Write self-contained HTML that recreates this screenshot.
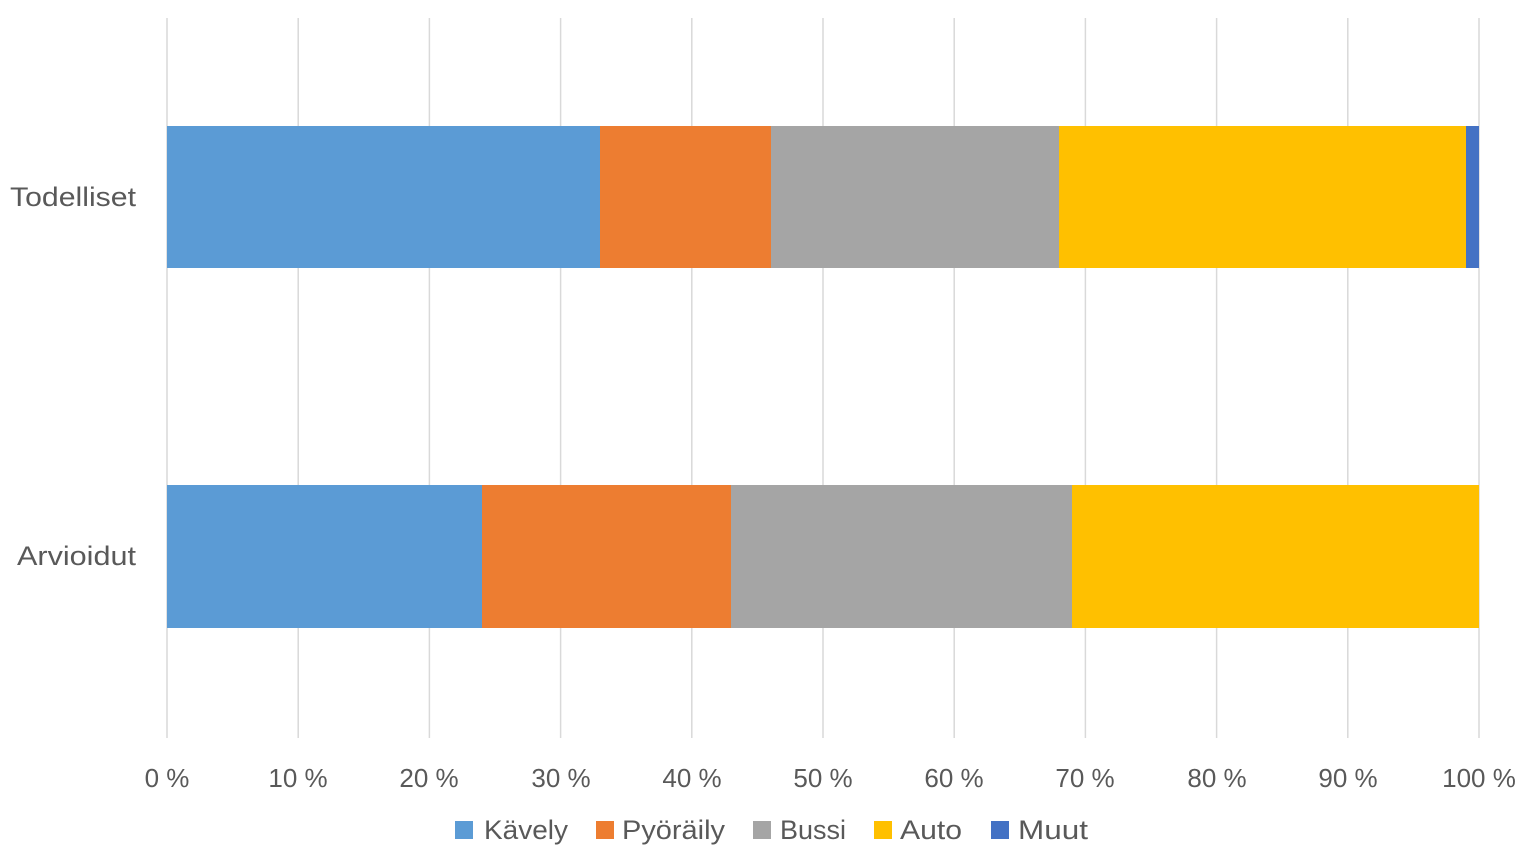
<!DOCTYPE html>
<html><head><style>html,body{margin:0;padding:0;background:#fff;}svg{display:block}</style></head>
<body>
<svg width="1536" height="864" viewBox="0 0 1536 864" xmlns="http://www.w3.org/2000/svg" font-family="Liberation Sans, sans-serif" fill="#595959">
<g stroke="#d9d9d9" stroke-width="1.5">
<line x1="167" y1="18" x2="167" y2="738"/><line x1="298.2" y1="18" x2="298.2" y2="738"/><line x1="429.4" y1="18" x2="429.4" y2="738"/><line x1="560.6" y1="18" x2="560.6" y2="738"/><line x1="691.8" y1="18" x2="691.8" y2="738"/><line x1="823" y1="18" x2="823" y2="738"/><line x1="954.2" y1="18" x2="954.2" y2="738"/><line x1="1085.4" y1="18" x2="1085.4" y2="738"/><line x1="1216.6" y1="18" x2="1216.6" y2="738"/><line x1="1347.8" y1="18" x2="1347.8" y2="738"/><line x1="1479" y1="18" x2="1479" y2="738"/>
</g>
<rect x="167" y="126" width="433" height="142" fill="#5b9bd5"/>
<rect x="600" y="126" width="171" height="142" fill="#ed7d31"/>
<rect x="771" y="126" width="288" height="142" fill="#a5a5a5"/>
<rect x="1059" y="126" width="407" height="142" fill="#ffc000"/>
<rect x="1466" y="126" width="13" height="142" fill="#4472c4"/>
<rect x="167" y="485" width="315" height="143" fill="#5b9bd5"/>
<rect x="482" y="485" width="249" height="143" fill="#ed7d31"/>
<rect x="731" y="485" width="341" height="143" fill="#a5a5a5"/>
<rect x="1072" y="485" width="407" height="143" fill="#ffc000"/>
<g font-size="27" text-anchor="end">
<text x="136" y="206" textLength="126" lengthAdjust="spacingAndGlyphs">Todelliset</text>
<text x="136" y="565" textLength="119" lengthAdjust="spacingAndGlyphs">Arvioidut</text>
</g>
<g font-size="26" text-anchor="middle">
<text x="167" y="787">0 %</text><text x="298" y="787">10 %</text><text x="429" y="787">20 %</text><text x="561" y="787">30 %</text><text x="692" y="787">40 %</text><text x="823" y="787">50 %</text><text x="954" y="787">60 %</text><text x="1085" y="787">70 %</text><text x="1217" y="787">80 %</text><text x="1348" y="787">90 %</text><text x="1479" y="787">100 %</text>
</g>
<rect x="455" y="821" width="18" height="18" fill="#5b9bd5"/>
<rect x="596" y="821" width="18" height="18" fill="#ed7d31"/>
<rect x="753" y="821" width="18" height="18" fill="#a5a5a5"/>
<rect x="874" y="821" width="18" height="18" fill="#ffc000"/>
<rect x="991" y="821" width="18" height="18" fill="#4472c4"/>
<g font-size="27">
<text x="484" y="839" textLength="84" lengthAdjust="spacingAndGlyphs">Kävely</text>
<text x="622" y="839" textLength="103" lengthAdjust="spacingAndGlyphs">Pyöräily</text>
<text x="780" y="839" textLength="66" lengthAdjust="spacingAndGlyphs">Bussi</text>
<text x="900" y="839" textLength="62" lengthAdjust="spacingAndGlyphs">Auto</text>
<text x="1018" y="839" textLength="70" lengthAdjust="spacingAndGlyphs">Muut</text>
</g>
</svg>
</body></html>
